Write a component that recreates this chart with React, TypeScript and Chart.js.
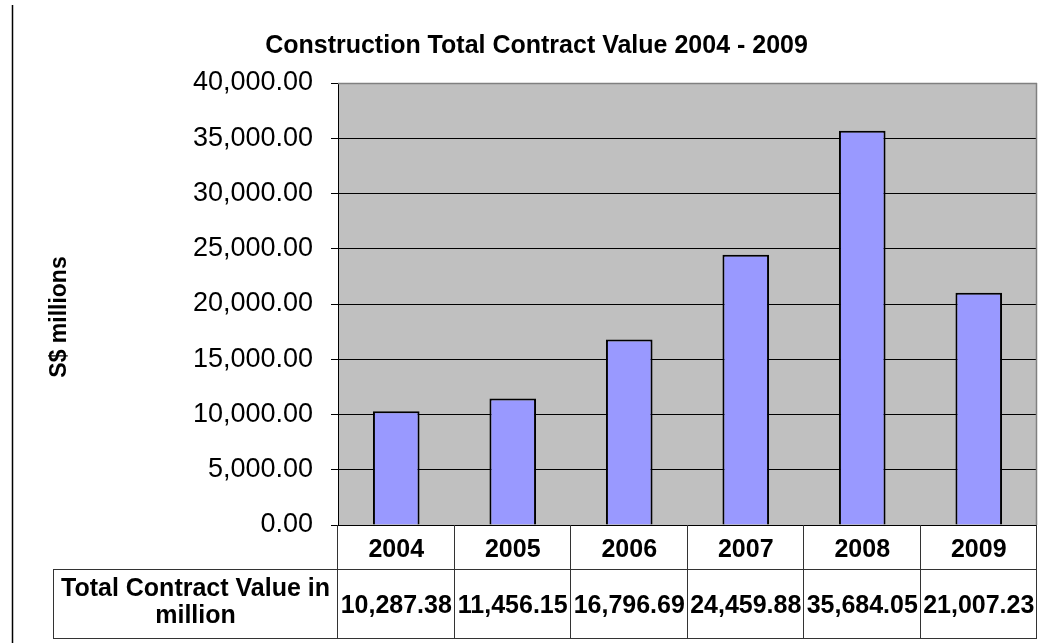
import React, { useEffect, useRef } from "react";
import { Chart, registerables } from "chart.js";

Chart.register(...registerables);

const categories: string[] = ["2004", "2005", "2006", "2007", "2008", "2009"];
const contractValues: number[] = [10287.38, 11456.15, 16796.69, 24459.88, 35684.05, 21007.23];
const yMin = 0;
const yMax = 40000;
const yStep = 5000;
const chartTitle = "Construction Total Contract Value 2004 - 2009";
const yAxisTitle = "S$ millions";
const tableRowLabel: string[] = ["Total Contract Value in", "million"];

const FONT = "'Liberation Sans', Arial, sans-serif";

const fmt = (v: number) =>
  v.toLocaleString("en-US", { minimumFractionDigits: 2, maximumFractionDigits: 2 });

const backgroundPlugin = {
  id: "excelBackground",
  beforeDraw(chart: any) {
    const { ctx, chartArea } = chart;
    ctx.save();
    ctx.fillStyle = "#ffffff";
    ctx.fillRect(0, 0, chart.width, chart.height);
    ctx.fillStyle = "#C0C0C0";
    ctx.fillRect(chartArea.left, chartArea.top, chartArea.right - chartArea.left, chartArea.bottom - chartArea.top);
    ctx.restore();
  },
};

const tablePlugin = {
  id: "excelDataTable",
  afterDraw(chart: any) {
    const { ctx, chartArea } = chart;
    const x = chart.scales.x;
    const n = categories.length;
    const left = chartArea.left;
    const right = chartArea.right;
    const catW = (right - left) / n;
    const top = chartArea.bottom;
    const headerBottom = top + 44;
    const tableBottom = top + 113;
    const labelLeft = 53;

    ctx.save();
    // outer left line of the sheet
    ctx.strokeStyle = "#000";
    ctx.lineWidth = 1.5;
    ctx.beginPath();
    ctx.moveTo(12.5, 5);
    ctx.lineTo(12.5, chart.height);
    ctx.stroke();

    // y axis title
    ctx.save();
    ctx.translate(60, 317);
    ctx.rotate(-Math.PI / 2);
    ctx.fillStyle = "#000";
    ctx.font = `bold 23px ${FONT}`;
    ctx.textAlign = "center";
    ctx.textBaseline = "middle";
    ctx.fillText(yAxisTitle, 0, 0);
    ctx.restore();

    // plot area gray top/right borders
    ctx.strokeStyle = "#808080";
    ctx.lineWidth = 1.5;
    ctx.beginPath();
    ctx.moveTo(left, chartArea.top + 0.5);
    ctx.lineTo(right, chartArea.top + 0.5);
    ctx.moveTo(right - 0.5, chartArea.top);
    ctx.lineTo(right - 0.5, chartArea.bottom);
    ctx.stroke();

    // table grid
    ctx.strokeStyle = "#333";
    ctx.lineWidth = 1;
    ctx.beginPath();
    ctx.moveTo(labelLeft, headerBottom + 0.5);
    ctx.lineTo(right, headerBottom + 0.5);
    ctx.moveTo(labelLeft, tableBottom + 0.5);
    ctx.lineTo(right, tableBottom + 0.5);
    ctx.moveTo(labelLeft + 0.5, headerBottom);
    ctx.lineTo(labelLeft + 0.5, tableBottom);
    for (let i = 0; i <= n; i++) {
      const bx = Math.round(left + i * catW) - 0.5;
      ctx.moveTo(bx, top);
      ctx.lineTo(bx, tableBottom);
    }
    ctx.stroke();

    // header + values
    ctx.fillStyle = "#000";
    ctx.textAlign = "center";
    ctx.textBaseline = "alphabetic";
    ctx.font = `bold 25px ${FONT}`;
    categories.forEach((c, i) => {
      const cx = x.getPixelForValue(i);
      ctx.fillText(c, cx, top + 32);
    });
    contractValues.forEach((v, i) => {
      const cx = x.getPixelForValue(i);
      ctx.fillText(fmt(v), cx, top + 88);
    });

    // row label
    ctx.font = `bold 25px ${FONT}`;
    const lx = (labelLeft + left) / 2;
    ctx.fillText(tableRowLabel[0], lx, top + 71);
    ctx.fillText(tableRowLabel[1], lx, top + 98);
    ctx.restore();
  },
};

export default function App() {
  const canvasRef = useRef<HTMLCanvasElement | null>(null);

  useEffect(() => {
    document.body.style.margin = "0";
    const canvas = canvasRef.current;
    if (!canvas) return;
    const chart = new Chart(canvas, {
      type: "bar",
      data: {
        labels: categories,
        datasets: [
          {
            label: "Total Contract Value in million",
            data: contractValues,
            backgroundColor: "#9999FF",
            borderColor: "#000000",
            borderWidth: 2,
            categoryPercentage: 1,
            barPercentage: 0.4,
          },
        ],
      },
      options: {
        responsive: false,
        animation: false,
        devicePixelRatio: 1,
        layout: { padding: { left: 36, right: 13, top: 0, bottom: 118 } },
        plugins: {
          legend: { display: false },
          tooltip: { enabled: false },
          title: {
            display: true,
            text: chartTitle,
            color: "#000",
            font: { family: FONT, size: 25, weight: "bold" },
            padding: { top: 31, bottom: 22 },
          },
        },
        scales: {
          x: {
            display: false,
          },
          y: {
            min: yMin,
            max: yMax,
            ticks: {
              stepSize: yStep,
              color: "#000",
              font: { family: FONT, size: 27 },
              padding: 18,
              callback: (v: any) => fmt(Number(v)),
            },
            grid: { color: "#000", lineWidth: 1, tickLength: 7, drawTicks: true },
            border: { display: true, color: "#000", width: 1 },
            title: { display: false },
            afterFit: (scale: any) => {
              scale.width = 302;
            },
          },
        },
      },
      plugins: [backgroundPlugin, tablePlugin],
    });
    return () => chart.destroy();
  }, []);

  return (
    <div style={{ position: "absolute", left: 0, top: 0, width: 1050, height: 643 }}>
      <canvas ref={canvasRef} width={1050} height={643} />
    </div>
  );
}
